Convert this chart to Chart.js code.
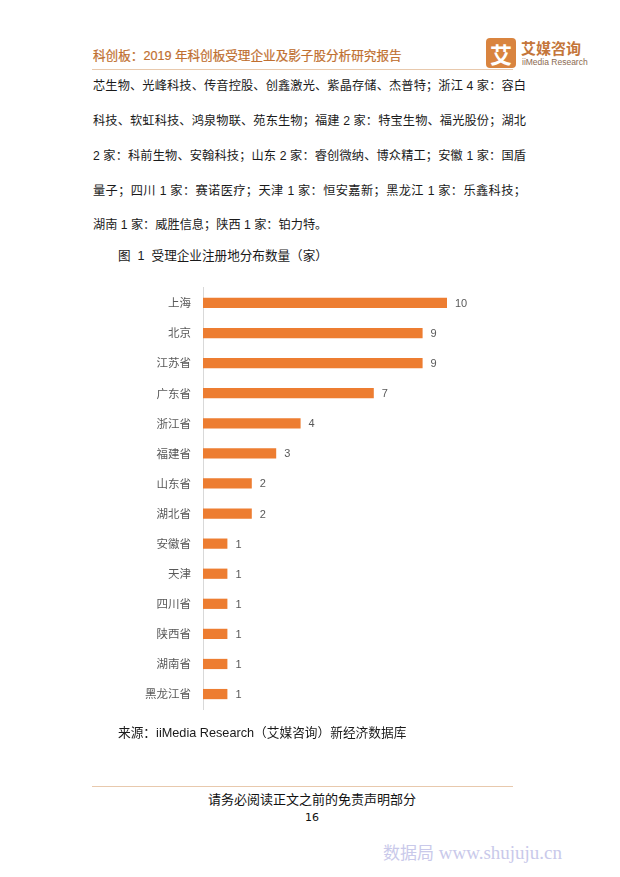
<!DOCTYPE html>
<html>
<head>
<meta charset="utf-8">
<script src="https://cdn.jsdelivr.net/npm/chart.js@4"></script>
<style>
  html, body { margin:0; padding:0; background:#fff; }
  body { width:620px; height:877px; position:relative; overflow:hidden;
         font-family:"Liberation Sans","Noto Sans CJK SC",sans-serif; color:#1a1a1a; }
  .abs { position:absolute; white-space:nowrap; }
  .hdr { left:93px; top:47px; font-size:12.6px; line-height:18px; color:#c06f30; font-weight:normal; -webkit-text-stroke:0.2px #c06f30; }
  .hline { position:absolute; left:92px; width:421px; height:1px; background:#e8c9ad; }
  .logo-sq { position:absolute; left:486px; top:38px; width:30px; height:30px; background:#d9843f;
             border-radius:4px; color:#fff; font-size:22px; line-height:30px; text-align:center; font-weight:bold;
             font-family:"Noto Sans CJK SC",sans-serif; }
  .logo-t { left:521px; top:38px; font-size:15px; line-height:20px; color:#c4763a; font-weight:bold;
            font-family:"Noto Sans CJK SC",sans-serif; }
  .logo-s { left:522px; top:57px; font-size:8.5px; line-height:11px; color:#8a6a50; }
  .para { position:absolute; left:93px; width:433px; font-size:12.2px; line-height:20px; color:#1a1a1a;
          text-align:justify; text-align-last:justify; white-space:nowrap; }
  .para.last { text-align-last:left; }
  .cap { left:118px; top:247px; font-size:12.6px; line-height:18px; color:#1a1a1a; }
  .src { left:118px; top:724px; font-size:12.7px; line-height:18px; color:#1a1a1a; }
  .foot { left:0; width:624px; text-align:center; top:791px; font-size:13px; line-height:18px; color:#111; }
  .pg { left:0; width:624px; text-align:center; top:810px; font-size:11px; line-height:16px; color:#111;
        font-family:"DejaVu Sans",sans-serif; }
  .wm { left:383px; top:840px; font-size:17px; line-height:24px; color:#c9c9ea; }
  .wm .cn { font-family:"Noto Sans CJK SC",sans-serif; }
  .wm .en { font-family:"Liberation Serif","DejaVu Serif",serif; font-size:19px; }
  #wrap { position:absolute; left:100px; top:269px; width:400px; height:459px; }
</style>
</head>
<body>
<div class="abs hdr">科创板：2019 年科创板受理企业及影子股分析研究报告</div>
<div class="hline" style="top:69px"></div>
<div class="logo-sq">艾</div>
<div class="abs logo-t">艾媒咨询</div>
<div class="abs logo-s">iiMedia Research</div>

<div class="para" style="top:76px">芯生物、光峰科技、传音控股、创鑫激光、紫晶存储、杰普特；浙江 4 家：容白</div>
<div class="para" style="top:111px">科技、软虹科技、鸿泉物联、苑东生物；福建 2 家：特宝生物、福光股份；湖北</div>
<div class="para" style="top:146px">2 家：科前生物、安翰科技；山东 2 家：睿创微纳、博众精工；安徽 1 家：国盾</div>
<div class="para" style="top:181px">量子；四川 1 家：赛诺医疗；天津 1 家：恒安嘉新；黑龙江 1 家：乐鑫科技；</div>
<div class="para last" style="top:215px">湖南 1 家：威胜信息；陕西 1 家：铂力特。</div>

<div class="abs cap">图&nbsp; 1&nbsp; 受理企业注册地分布数量（家）</div>

<div id="wrap"><canvas id="c" width="400" height="459"></canvas></div>

<div class="abs src">来源：iiMedia Research（艾媒咨询）新经济数据库</div>
<div class="hline" style="top:786px"></div>
<div class="abs foot">请务必阅读正文之前的免责声明部分</div>
<div class="abs pg">16</div>
<div class="abs wm"><span class="cn">数据局</span> <span class="en">www.shujuju.cn</span></div>

<script>
const categories = ['上海','北京','江苏省','广东省','浙江省','福建省','山东省','湖北省','安徽省','天津','四川省','陕西省','湖南省','黑龙江省'];
const counts = [10,9,9,7,4,3,2,2,1,1,1,1,1,1];
const axisMax = 10;

const valueLabels = {
  id:'valueLabels',
  afterDatasetsDraw(chart){
    const ctx = chart.ctx;
    const meta = chart.getDatasetMeta(0);
    ctx.save();
    ctx.fillStyle = '#595959';
    ctx.font = '11px "Liberation Sans", sans-serif';
    ctx.textBaseline = 'middle';
    ctx.textAlign = 'left';
    meta.data.forEach((bar,i)=>{
      ctx.fillText(String(counts[i]), bar.x + 8, bar.y + 1);
    });
    ctx.restore();
  }
};

new Chart(document.getElementById('c'), {
  type:'bar',
  data:{
    labels:categories,
    datasets:[{
      data:counts,
      backgroundColor:'#ED7D31',
      borderWidth:0,
      categoryPercentage:1.0,
      barPercentage:0.34
    }]
  },
  options:{
    indexAxis:'y',
    responsive:false,
    animation:false,
    devicePixelRatio:1,
    layout:{ padding:{ top:8, bottom:8, right:53, left:0 } },
    plugins:{ legend:{display:false}, tooltip:{enabled:false} },
    scales:{
      x:{ display:false, min:0, max:axisMax },
      y:{
        grid:{ display:false, drawTicks:false },
        border:{ display:true, color:'#d9d9d9', width:1 },
        ticks:{ color:'#595959', padding:12, font:{ size:11.5, family:'"Noto Sans CJK SC", sans-serif' } },
        afterFit(scale){ scale.width = 103; }
      }
    }
  },
  plugins:[valueLabels]
});
</script>
</body>
</html>
